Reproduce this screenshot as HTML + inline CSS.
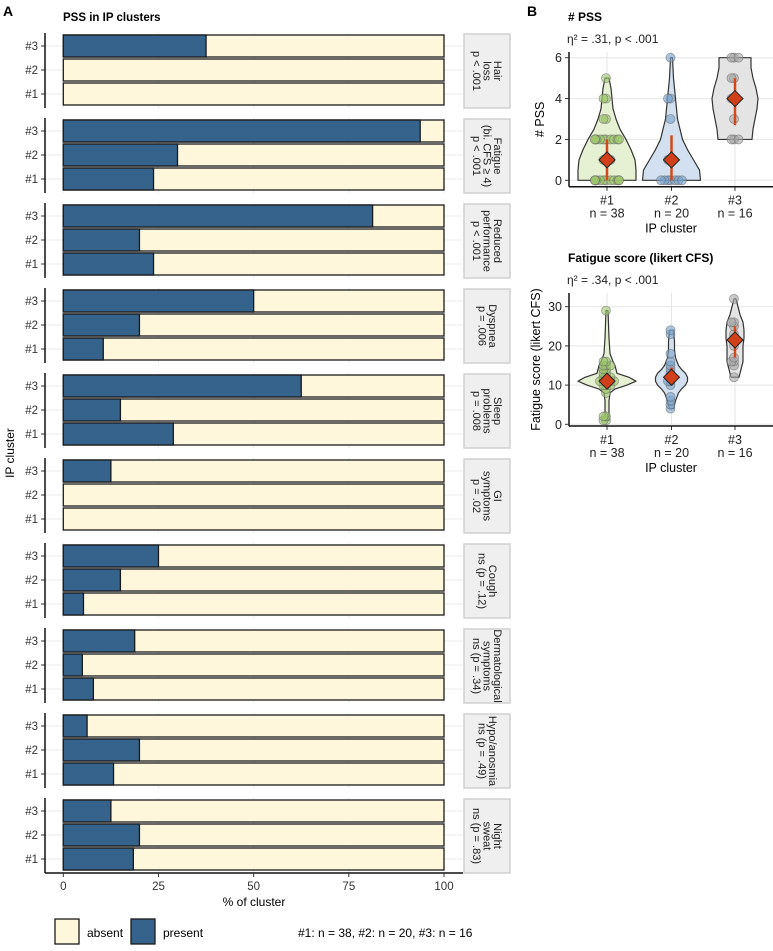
<!DOCTYPE html>
<html><head><meta charset="utf-8"><style>
body{margin:0;background:#fff;font-family:"Liberation Sans",Arial,sans-serif}
svg text{font-family:"Liberation Sans",Arial,sans-serif}
</style></head><body>
<svg id="svg" width="773" height="946" viewBox="0 0 773 946" xmlns="http://www.w3.org/2000/svg">
<text x="3" y="16" font-size="14" font-weight="bold">A</text>
<text x="63" y="21" font-size="11.5" font-weight="bold">PSS in IP clusters</text>
<text x="527" y="16" font-size="14" font-weight="bold">B</text>
<g id="A"></g>
<g id="B"></g>
</svg>
<script>
const NS="http://www.w3.org/2000/svg";
const symptoms=["Hair loss","Fatigue","Reduced performance","Dyspnea","Sleep problems","GI symptoms","Cough","Dermatological symptoms","Hypo/anosmia","Night sweat"];
const stripLabels=[["Hair","loss","p < .001"],["Fatigue","(bi. CFS ≥ 4)","p < .001"],["Reduced","performance","p < .001"],["Dyspnea","p = .006"],["Sleep","problems","p = .008"],["GI","symptoms","p = .02"],["Cough","ns (p = .12)"],["Dermatological","symptoms","ns (p = .34)"],["Hypo/anosmia","ns (p = .49)"],["Night","sweat","ns (p = .83)"]];
const clusters=["#3","#2","#1"];
const present3=[37.5,93.75,81.25,50,62.5,12.5,25,18.75,6.25,12.5];
const present2=[0,30,20,20,15,0,15,5,20,20];
const present1=[0,23.7,23.7,10.5,28.9,0,5.3,7.9,13.2,18.4];
const xTicks=[0,25,50,75,100];

function el(tag,attrs,parent,txt){const e=document.createElementNS(NS,tag);for(const k in attrs)e.setAttribute(k,attrs[k]);if(txt!==undefined)e.textContent=txt;parent.appendChild(e);return e;}
const A=document.getElementById('A');
const xs=v=>63.3+v*(444-63.3)/100;
const panelTop=i=>33+i*85;
symptoms.forEach((s,i)=>{
  const t=panelTop(i);
  const g=el('g',{},A);
  
  
  xTicks.forEach(v=>el('line',{x1:xs(v),x2:xs(v),y1:t,y2:t+75,stroke:'#ebebeb','stroke-width':1},g));
  const vals=[present3[i],present2[i],present1[i]];
  clusters.forEach((c,j)=>{
    const yc=t+13+j*24;
    el('line',{x1:45,x2:463,y1:yc,y2:yc,stroke:'#ebebeb'},g);
    el('line',{x1:41,x2:45,y1:yc,y2:yc,stroke:'#333'},g);
    const lab=el('text',{x:38,y:yc+4,'font-size':11.5,'text-anchor':'end',fill:'#333'},g,c);
    
    
    const ab=el('rect',{x:xs(0),y:yc-11,width:xs(100)-xs(0),height:22,fill:'#fff7dc',stroke:'#1a1a1a','stroke-width':1.3},g);
    
    
    if(vals[j]>0){
      const pr=el('rect',{x:xs(0),y:yc-11,width:xs(vals[j])-xs(0),height:22,fill:'#36638b',stroke:'#1a1a1a','stroke-width':1.3},g);
      
      
    }
  });
  el('line',{x1:45,x2:45,y1:t,y2:t+75,stroke:'#111','stroke-width':1.5},g);
  const st=el('rect',{x:464,y:t+1,width:46,height:74,fill:'#efefef',stroke:'#d0d0d0','stroke-width':1.5},g);
  
  
  const L=stripLabels[i];const n=L.length;
  const tg=el('g',{transform:`translate(487,${t+38}) rotate(90)`},g);
  L.forEach((ln,k)=>{
    el('text',{x:0,y:(k-(n-1)/2)*10.5+3.5,'font-size':11,'text-anchor':'middle',fill:'#1a1a1a'},tg,ln);
  });
});
const ax=el('g',{},A);


el('line',{x1:45,x2:463,y1:873,y2:873,stroke:'#111','stroke-width':1.5},ax);
xTicks.forEach(v=>{el('line',{x1:xs(v),x2:xs(v),y1:873,y2:877,stroke:'#333'},ax);el('text',{x:xs(v),y:890,'font-size':11.5,'text-anchor':'middle',fill:'#333'},ax,v);});
const xt=el('text',{x:254,y:906,'font-size':12,'text-anchor':'middle'},ax,'% of cluster');


const yt=el('text',{x:0,y:0,'font-size':12,'text-anchor':'middle',transform:'translate(14,453) rotate(-90)'},A,'IP cluster');


const lg=el('g',{},A);


el('rect',{x:55,y:919,width:24,height:25,fill:'#fff7dc',stroke:'#1a1a1a','stroke-width':1.3},lg);
el('text',{x:87,y:937,'font-size':12},lg,'absent');
el('rect',{x:131,y:919,width:24,height:25,fill:'#36638b',stroke:'#1a1a1a','stroke-width':1.3},lg);
el('text',{x:163,y:937,'font-size':12},lg,'present');
el('text',{x:298,y:937,'font-size':12},lg,'#1: n = 38, #2: n = 20, #3: n = 16');

const B=document.getElementById('B');
const groups=["#1","#2","#3"];
const groupN=["n = 38","n = 20","n = 16"];
const fills=['#e6f0d2','#d3e0ef','#e4e4e4'];
const ptCol=['#9cc46a','#78a2cc','#a9a9a9'];
const pssPoints=[[0,0,0,0,0,0,0,0,0,0,0,0,1,1,1,2,2,2,2,2,2,2,2,2,2,3,3,4,4,5],[0,0,0,0,0,0,0,1,1,3,4,4,6],[2,2,2,3,4,4,5,5,6,6,6]];
const pssMean=[1,1,4], pssLo=[0,0,2.7], pssHi=[2,2.2,5];
const pssVY=[[0,0.5,1,1.5,2,2.5,3,3.5,4,4.5,5],[0,0.5,1,1.5,2,3,4,5,6],[2,2.5,3,3.5,4,4.5,5,5.5,6]];
const pssVW=[[29,29,28,24,19,13,9,6,5,4,2],[29,28,22,16,11,6,4,2,1],[17,18,20,22,23,21,18,16,16]];
const fatPoints=[[1,1,2,2,8,9,10,10,10,11,11,11,11,11,12,12,12,13,13,14,14,15,15,15,16,16,29],[4,5,6,7,10,11,11,12,13,14,15,16,18,23,24],[12,15,16,16,17,20,22,23,25,26,26,32]];
const fatMean=[11,12,21.5], fatLo=[9.5,10,17], fatHi=[12.5,14.5,25];
const fatVY=[[1,3,6,8,9,10,11,12,13,14,15,16,18,22,29],[4,6,8,9,10,11,12,13,14,15,17,19,21,24],[12,14,16,18,20,22,24,26,28,30,32]];
const fatVW=[[2,2,2,3,8,20,29,22,10,9,8,6,3,2,1],[2,4,7,10,14,16,16,14,10,7,4,3,3,2],[4,6,8,8,8,9,9,8,5,3,1]];

function violinPanel(top,opts){
  const g=el('g',{},B);
  
  
  const yS=v=>opts.y0+(v-opts.min)*(opts.yTop-opts.y0)/(opts.max-opts.min);
  const xc=[607,671.5,735];
  opts.ticks.forEach(v=>el('line',{x1:569,x2:773,y1:yS(v),y2:yS(v),stroke:'#e6e6e6'},g));
  xc.forEach(x=>el('line',{x1:x,x2:x,y1:opts.axTop,y2:opts.axY,stroke:'#e6e6e6'},g));
  groups.forEach((gr,k)=>{
    const Y=opts.vy[k],W=opts.vw[k];
    let d='M'+(xc[k]-W[0])+','+yS(Y[0]);
    for(let m=1;m<Y.length;m++)d+=' L'+(xc[k]-W[m])+','+yS(Y[m]);
    for(let m=Y.length-1;m>=0;m--)d+=' L'+(xc[k]+W[m])+','+yS(Y[m]);
    d+='Z';
    const v=el('path',{d:d,fill:fills[k],stroke:'#333','stroke-width':1.2,'stroke-linejoin':'round'},g);
    
    
    const cnt={};
    opts.pts[k].forEach(p=>{
      cnt[p]=(cnt[p]||0)+1;const c=cnt[p];
      const off=((c%2?1:-1)*Math.ceil((c-1)/2)*3.5)+(c===1?-1:0);
      const pt=el('circle',{cx:xc[k]+Math.max(-12,Math.min(12,off)),cy:yS(p),r:4.5,fill:ptCol[k],'fill-opacity':0.6,stroke:'#666','stroke-opacity':0.6,'stroke-width':0.8},g);
      
      
    });
    el('line',{x1:xc[k],x2:xc[k],y1:yS(opts.lo[k]),y2:yS(opts.hi[k]),stroke:'#d2491b','stroke-width':2.5},g);
    const my=yS(opts.mean[k]);
    const dm=el('path',{d:`M${xc[k]},${my-8} L${xc[k]+8},${my} L${xc[k]},${my+8} L${xc[k]-8},${my}Z`,fill:'#d2401a',stroke:'#222','stroke-width':1},g);
    
    
    el('line',{x1:xc[k],x2:xc[k],y1:opts.axY,y2:opts.axY+4,stroke:'#333'},g);
    el('text',{x:xc[k],y:opts.axY+18,'font-size':12.5,'text-anchor':'middle',fill:'#222'},g,gr);
    el('text',{x:xc[k],y:opts.axY+31,'font-size':12.5,'text-anchor':'middle',fill:'#222'},g,groupN[k]);
  });
  el('line',{x1:569,x2:569,y1:opts.axTop,y2:opts.axY,stroke:'#111','stroke-width':1.5},g);
  el('line',{x1:569,x2:773,y1:opts.axY,y2:opts.axY,stroke:'#111','stroke-width':1.5},g);
  opts.ticks.forEach(v=>{el('line',{x1:565,x2:569,y1:yS(v),y2:yS(v),stroke:'#333'},g);el('text',{x:562,y:yS(v)+4.5,'font-size':12.5,'text-anchor':'end',fill:'#222'},g,v);});
  el('text',{x:671,y:opts.axY+46,'font-size':12.5,'text-anchor':'middle'},g,'IP cluster');
  el('text',{x:0,y:0,'font-size':12.5,'text-anchor':'middle',transform:`translate(${opts.ylx},${(opts.axTop+opts.axY)/2}) rotate(-90)`},g,opts.ylab);
  el('text',{x:568,y:opts.titleY,'font-size':12,'font-weight':'bold'},g,opts.title);
  el('text',{x:567,y:opts.titleY+22,'font-size':12,fill:'#222'},g,opts.sub);
}
violinPanel(0,{name:'pss-violin-chart',y0:180.3,yTop:57.7,min:0,max:6,ticks:[0,2,4,6],axTop:52,axY:186.7,pts:pssPoints,mean:pssMean,lo:pssLo,hi:pssHi,vy:pssVY,vw:pssVW,ylab:'# PSS',ylx:544,title:'# PSS',sub:'η² = .31, p < .001',titleY:21});
violinPanel(0,{name:'fatigue-violin-chart',y0:424.3,yTop:306.7,min:0,max:30,ticks:[0,10,20,30],axTop:293,axY:426,pts:fatPoints,mean:fatMean,lo:fatLo,hi:fatHi,vy:fatVY,vw:fatVW,ylab:'Fatigue score (likert CFS)',ylx:540,title:'Fatigue score (likert CFS)',sub:'η² = .34, p < .001',titleY:262});
</script>
</body></html>
